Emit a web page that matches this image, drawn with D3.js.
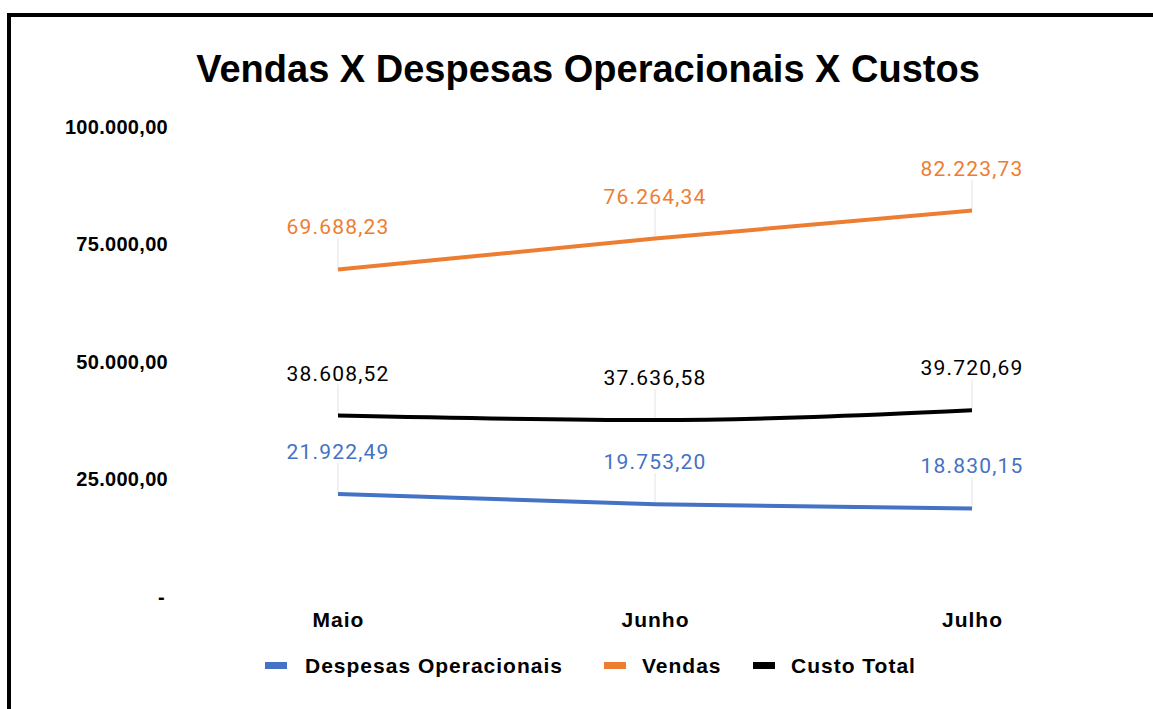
<!DOCTYPE html>
<html>
<head>
<meta charset="utf-8">
<script src="https://cdn.jsdelivr.net/npm/d3@7"></script>
<style>
  body { margin: 0; background: #fff; }
</style>
</head>
<body>
<div id="chart-area"></div>
<script>
// Data
var months = ["Maio", "Junho", "Julho"];
var despesas = [21922.49, 19753.20, 18830.15];
var vendas = [69688.23, 76264.34, 82223.73];
var custo = [38608.52, 37636.58, 39720.69];
var yTicks = [0, 25000, 50000, 75000, 100000];

var seriesNames = ["Despesas Operacionais", "Vendas", "Custo Total"];
var seriesColors = ["#4472C4", "#ED7D31", "#000000"];
var series = [despesas, vendas, custo];

var W = 1153, H = 709;
var boldFont = "Liberation Sans, Arial, sans-serif";

var svg = d3.select("#chart-area").append("svg")
    .attr("width", W)
    .attr("height", H);

// border (top and left only)
svg.append("line").attr("x1", 7).attr("x2", W).attr("y1", 15).attr("y2", 15)
    .attr("stroke", "#000").attr("stroke-width", 4);
svg.append("line").attr("x1", 9).attr("x2", 9).attr("y1", 13).attr("y2", H)
    .attr("stroke", "#000").attr("stroke-width", 4);

svg.append("text")
    .attr("x", 588).attr("y", 82)
    .attr("text-anchor", "middle")
    .style("font-family", boldFont)
    .style("font-weight", "bold")
    .style("font-size", "38px")
    .text("Vendas X Despesas Operacionais X Custos");

var x = d3.scalePoint()
    .domain(months)
    .range([338, 972]);

var y = d3.scaleLinear()
    .domain([0, 100000])
    .range([597, 127]);

var fmt = d3.formatLocale({decimal: ",", thousands: ".", grouping: [3], currency: ["", ""]}).format(",.2f");

// y axis labels
var yAxis = d3.axisLeft(y)
    .tickValues(yTicks)
    .tickSize(0)
    .tickPadding(0)
    .tickFormat((d) => d === 0 ? "-" : fmt(d));

var gy = svg.append("g")
    .attr("transform", "translate(168,0)")
    .call(yAxis);
gy.select(".domain").remove();
gy.selectAll("text")
    .attr("dx", (d) => d === 0 ? -3 : 0)
    .attr("dy", "0.3em")
    .style("font-family", boldFont)
    .style("font-weight", "bold")
    .style("font-size", "20px")
    .style("letter-spacing", "0.3px")
    .attr("fill", "#000");

// x axis labels
var xAxis = d3.axisBottom(x).tickSize(0).tickPadding(0);
var gx = svg.append("g")
    .attr("transform", "translate(0,612)")
    .call(xAxis);
gx.select(".domain").remove();
gx.selectAll("text")
    .style("font-family", boldFont)
    .style("font-weight", "bold")
    .style("font-size", "21px")
    .style("letter-spacing", "1px")
    .attr("fill", "#000");

var line = d3.line()
    .x((d, i) => x(months[i]))
    .y((d) => y(d))
    .curve(d3.curveMonotoneX);

series.forEach((vals, s) => {
    var g = svg.append("g");
    // leader lines
    g.selectAll("line.leader")
        .data(vals)
        .enter().append("line")
        .attr("x1", (d, i) => x(months[i]))
        .attr("x2", (d, i) => x(months[i]))
        .attr("y1", (d) => y(d) - 31)
        .attr("y2", (d) => y(d))
        .attr("stroke", "#e3e3e3")
        .attr("stroke-width", 1);

    g.append("path")
        .datum(vals)
        .attr("d", line)
        .attr("fill", "none")
        .attr("stroke", seriesColors[s])
        .attr("stroke-width", 4);

    g.selectAll("text")
        .data(vals)
        .enter().append("text")
        .attr("x", (d, i) => x(months[i]))
        .attr("y", (d) => y(d) - 35)
        .attr("text-anchor", "middle")
        .style("font-family", "Roboto, sans-serif")
        .style("font-size", "21px")
        .style("letter-spacing", "1.2px")
        .attr("fill", seriesColors[s])
        .text((d) => fmt(d));
});

// legend
var legendX = [265, 604, 753];
var leg = svg.selectAll("g.legend")
    .data(seriesNames)
    .enter().append("g")
    .attr("transform", (d, i) => "translate(" + legendX[i] + ",665)");
leg.append("rect")
    .attr("x", 0).attr("y", -3)
    .attr("width", 22).attr("height", 7)
    .attr("fill", (d, i) => seriesColors[i]);
leg.append("text")
    .attr("x", (d, i) => i === 0 ? 40 : 38)
    .attr("y", 8)
    .style("font-family", boldFont)
    .style("font-weight", "bold")
    .style("font-size", "21px")
    .style("letter-spacing", "1px")
    .text((d) => d);
</script>
</body>
</html>
